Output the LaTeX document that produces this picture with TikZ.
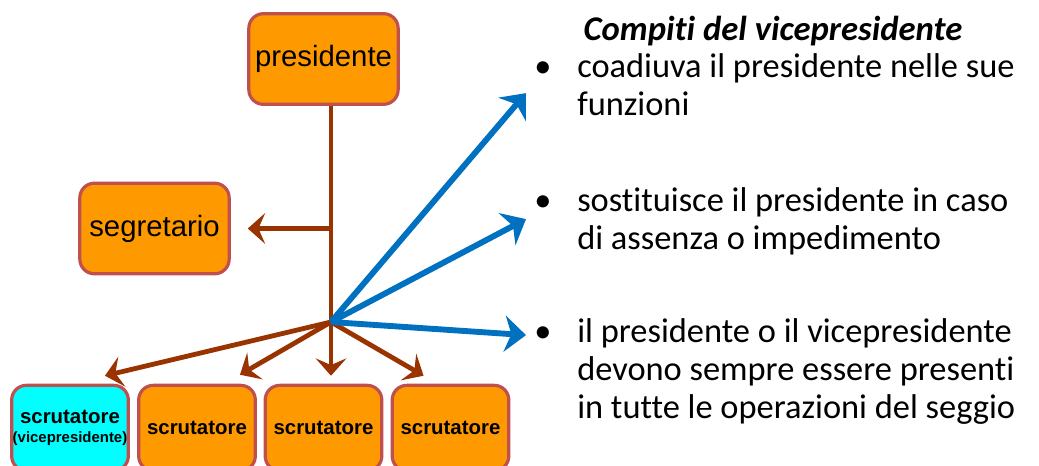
\documentclass[tikz,border=0pt]{standalone}
\usepackage{fontspec}
\setmainfont{Carlito}[Ligatures=NoCommon]
\newfontfamily\arialfont{Liberation Sans}
\usetikzlibrary{arrows.meta,calc}
\definecolor{boxorange}{RGB}{255,153,0}
\definecolor{boxedge}{RGB}{192,80,77}
\definecolor{vicecyan}{RGB}{0,255,255}
\definecolor{linkbrown}{RGB}{153,51,0}
\definecolor{taskblue}{RGB}{0,112,192}
\tikzset{
  office/.style={draw=boxedge, line width=2.4pt, fill=boxorange, rounded corners=11pt,
    inner sep=0pt, minimum width=112pt, minimum height=68pt,
    font=\arialfont\fontsize{22}{24}\selectfont},
  scrut/.style={office, minimum width=87.5pt, minimum height=64pt, align=center,
    font=\arialfont\bfseries\fontsize{15.3}{17}\selectfont},
  brownline/.style={draw=linkbrown, line width=3.6pt},
  brownarrow/.style={brownline, -{Stealth[length=13pt,width=23pt,inset=5pt]}},
  bluearrow/.style={draw=taskblue, line width=4.4pt, -{Stealth[length=16pt,width=27pt,inset=5pt]}},
  task/.style={anchor=base west, align=left, inner sep=0pt, font=\fontsize{25.8}{28.5}\selectfont},
  bulletmark/.style={anchor=base, inner sep=0pt, font=\fontsize{25.8}{28.5}\selectfont}
}
\begin{document}
\begin{tikzpicture}[x=0.75pt,y=-0.75pt]
\useasboundingbox (0,0) rectangle (1039,466);
% organigramma
\node[office] (pres) at (323.5,59) {presidente};
\node[office] (segr) at (154.5,228.5) {segretario};
\node[scrut, fill=vicecyan] (s1) at (70,428) {scrutatore\\[-3pt]{\fontsize{11.2}{12}\selectfont(vicepresidente)}};
\node[scrut] (s2) at (197,428) {scrutatore};
\node[scrut] (s3) at (323.5,428) {scrutatore};
\node[scrut] (s4) at (450.5,428) {scrutatore};
\coordinate (hub) at (331,322);
\draw[brownline] (pres.south -| hub) -- (hub);
\draw[brownarrow] (hub |- segr.east) -- ($(segr.east)+(17,0)$);
\draw[brownarrow] (hub) -- ($(s1.north east)+(-25,-8)$);
\draw[brownarrow] (hub) -- ($(s2.north east)+(-17,-9)$);
\draw[brownarrow] (hub) -- ($(s3.north -| hub)+(0,-8)$);
\draw[brownarrow] (hub) -- ($(s4.north west)+(33,-8)$);
% compiti
\node[anchor=base, inner sep=0pt, font=\bfseries\itshape\fontsize{26}{28}\selectfont] (title) at (773,41) {Compiti del vicepresidente};
\node[bulletmark] (b1) at (543,78) {•};
\node[bulletmark] (b2) at (543,212) {•};
\node[bulletmark] (b3) at (543,343) {•};
\node[task] (t1) at (577,116) {coadiuva il presidente nelle sue\\funzioni};
\node[task] (t2) at (577,250) {sostituisce il presidente in caso\\di assenza o impedimento};
\node[task] (t3) at (577,419) {il presidente o il vicepresidente\\devono sempre essere presenti\\in tutte le operazioni del seggio};
\draw[bluearrow] (hub) -- ($(b1)+(-17,23)$);
\draw[bluearrow] (hub) -- ($(b2)+(-17,15)$);
\draw[bluearrow] (hub) -- ($(b3)+(-17,0)$);
\end{tikzpicture}
\end{document}
